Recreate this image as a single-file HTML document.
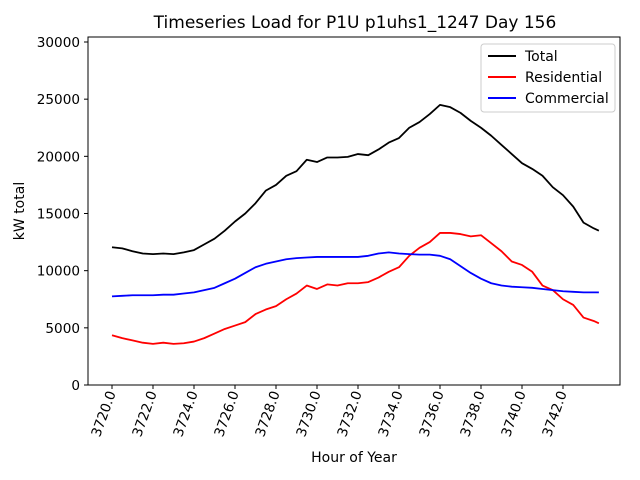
<!DOCTYPE html>
<html><head><meta charset="utf-8"><style>
body{margin:0;background:#fff}
svg{display:block;font-family:"DejaVu Sans","Liberation Sans",sans-serif}
</style></head><body>
<svg id="chart" width="640" height="480">
<text x="355" y="28" text-anchor="middle" font-size="17">Timeseries Load for P1U p1uhs1_1247  Day 156</text>
<text x="24" y="211" text-anchor="middle" font-size="14" transform="rotate(-90 24 211)">kW total</text>
<text x="354" y="462" text-anchor="middle" font-size="14">Hour of Year</text>
<g id="marks"></g>
<rect x="88" y="37" width="532" height="348" fill="none" stroke="#000" stroke-width="1"/>
<g>
<rect x="481" y="44" width="134" height="68" rx="3" fill="#fff" fill-opacity="0.8" stroke="#ccc"/>
<line x1="488" y1="56" x2="516" y2="56" stroke="#000" stroke-width="2"/>
<text x="525" y="61" font-size="14">Total</text>
<line x1="488" y1="77" x2="516" y2="77" stroke="#f00" stroke-width="2"/>
<text x="525" y="82" font-size="14">Residential</text>
<line x1="488" y1="98" x2="516" y2="98" stroke="#00f" stroke-width="2"/>
<text x="525" y="103" font-size="14">Commercial</text>
</g>
</svg>
<script>
const hours=[3720,3720.5,3721,3721.5,3722,3722.5,3723,3723.5,3724,3724.5,3725,3725.5,3726,3726.5,3727,3727.5,3728,3728.5,3729,3729.5,3730,3730.5,3731,3731.5,3732,3732.5,3733,3733.5,3734,3734.5,3735,3735.5,3736,3736.5,3737,3737.5,3738,3738.5,3739,3739.5,3740,3740.5,3741,3741.5,3742,3742.5,3743,3743.5,3743.75];
const total=[12050,11950,11700,11500,11450,11500,11450,11600,11800,12300,12800,13500,14300,15000,15900,17000,17500,18300,18700,19700,19500,19900,19900,19950,20200,20100,20600,21200,21600,22500,23000,23700,24500,24300,23800,23100,22500,21800,21000,20200,19400,18900,18300,17300,16600,15600,14200,13700,13500];
const residential=[4350,4100,3900,3700,3600,3700,3600,3650,3800,4100,4500,4900,5200,5500,6200,6600,6900,7500,8000,8700,8400,8800,8700,8900,8900,9000,9400,9900,10300,11300,12000,12500,13300,13300,13200,13000,13100,12400,11700,10800,10500,9900,8700,8300,7500,7000,5900,5600,5400];
const commercial=[7750,7800,7850,7850,7850,7900,7900,8000,8100,8300,8500,8900,9300,9800,10300,10600,10800,11000,11100,11150,11200,11200,11200,11200,11200,11300,11500,11600,11500,11450,11400,11400,11300,11000,10400,9800,9300,8900,8700,8600,8550,8500,8400,8300,8200,8150,8100,8100,8100];
const xTicks=[3720,3722,3724,3726,3728,3730,3732,3734,3736,3738,3740,3742];
const yTicks=[0,5000,10000,15000,20000,25000,30000];

const NS="http://www.w3.org/2000/svg";
const g=document.getElementById('marks');
function xs(h){return 112+(h-3720)*20.5;}
function ys(v){return 385-v*(343/30000);}
function mk(t,a){const e=document.createElementNS(NS,t);for(const k in a)e.setAttribute(k,a[k]);g.appendChild(e);return e;}
yTicks.forEach(v=>{
  const l=mk('line',{x1:84,x2:88,y1:ys(v),y2:ys(v),stroke:'#000'});
  
  
  const t=mk('text',{x:80,y:ys(v)+5,'text-anchor':'end','font-size':13.6});
  t.textContent=v;
  
  
});
xTicks.forEach(h=>{
  const x=xs(h);
  const l=mk('line',{x1:x,x2:x,y1:385,y2:389,stroke:'#000'});
  
  
  const t=mk('text',{x:x+4,y:393,'text-anchor':'end','font-size':13.6,transform:`rotate(-70 ${x+4} 393)`});
  t.textContent=h.toFixed(1);
  
  
});
[[total,'#000','total-line'],[residential,'#f00','residential-line'],[commercial,'#00f','commercial-line']].forEach(([s,c,n])=>{
  const p=mk('polyline',{points:s.map((v,i)=>xs(hours[i])+','+ys(v)).join(' '),fill:'none',stroke:c,'stroke-width':1.8,'stroke-linejoin':'round'});
  
  
});
</script>
</body></html>
